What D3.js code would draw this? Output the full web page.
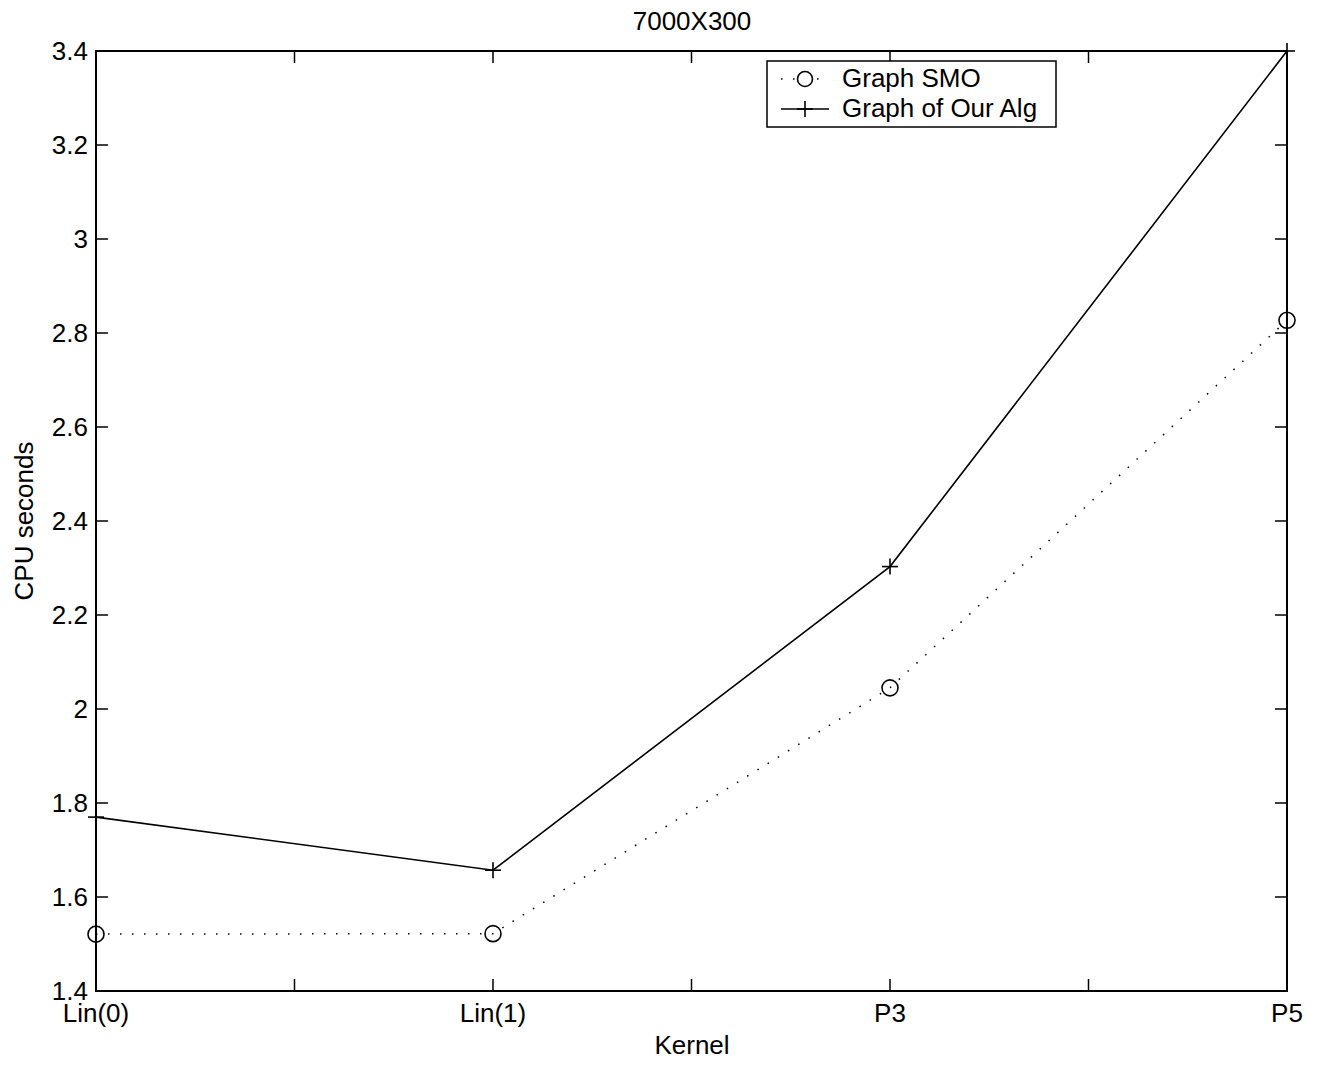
<!DOCTYPE html>
<html>
<head>
<meta charset="utf-8">
<script src="https://cdn.jsdelivr.net/npm/d3@7"></script>
<style>
  body { margin: 0; background: #fff; }
  text { font-family: "Liberation Sans", Arial, sans-serif; fill: #000; }
</style>
</head>
<body>
<svg id="chart" width="1323" height="1066"></svg>
<script>
const kernels = ["Lin(0)", "Lin(1)", "P3", "P5"];
const smoValues = [1.521, 1.522, 2.045, 2.827];
const ourValues = [1.770, 1.657, 2.303, 3.400];
const yTicks = [1.4, 1.6, 1.8, 2, 2.2, 2.4, 2.6, 2.8, 3, 3.2, 3.4];
const xTicks = [0, 0.5, 1, 1.5, 2, 2.5, 3];

const svg = d3.select("#chart");
const plotLeft = 96, plotRight = 1287, plotTop = 51, plotBottom = 991;
const fs = 26;

const x = d3.scaleLinear().domain([0, 3]).range([plotLeft, plotRight]);
const y = d3.scaleLinear().domain([1.4, 3.4]).range([plotBottom, plotTop]);
const tickLen = 12;

// ticks inside the box, on all four sides
const ticks = svg.append("g").attr("stroke", "#000").attr("stroke-width", 1.5);
yTicks.forEach(v => {
    ticks.append("line").attr("x1", plotLeft).attr("x2", plotLeft + tickLen).attr("y1", y(v)).attr("y2", y(v));
    ticks.append("line").attr("x1", plotRight).attr("x2", plotRight - tickLen).attr("y1", y(v)).attr("y2", y(v));
});
xTicks.forEach(v => {
    ticks.append("line").attr("x1", x(v)).attr("x2", x(v)).attr("y1", plotBottom).attr("y2", plotBottom - tickLen);
    ticks.append("line").attr("x1", x(v)).attr("x2", x(v)).attr("y1", plotTop).attr("y2", plotTop + tickLen);
});

svg.append("rect")
    .attr("x", plotLeft).attr("y", plotTop)
    .attr("width", plotRight - plotLeft).attr("height", plotBottom - plotTop)
    .attr("fill", "none").attr("stroke", "#000").attr("stroke-width", 2);

// tick labels
svg.selectAll(".ylab").data(yTicks).enter().append("text")
    .attr("x", plotLeft - 8).attr("y", d => y(d) + 9)
    .attr("text-anchor", "end").attr("font-size", fs)
    .text(d => d3.format("~g")(d));

svg.selectAll(".xlab").data(kernels).enter().append("text")
    .attr("x", (d, i) => x(i)).attr("y", 1022)
    .attr("text-anchor", "middle").attr("font-size", fs)
    .text(d => d);

svg.append("text").attr("x", 692).attr("y", 30).attr("text-anchor", "middle").attr("font-size", fs).text("7000X300");
svg.append("text").attr("x", 692).attr("y", 1054).attr("text-anchor", "middle").attr("font-size", fs).text("Kernel");
svg.append("text").attr("transform", "translate(33,521) rotate(-90)").attr("text-anchor", "middle").attr("font-size", fs).text("CPU seconds");

const line = d3.line().x((d, i) => x(i)).y(d => y(d));

svg.append("path").datum(smoValues).attr("d", line)
    .attr("fill", "none").attr("stroke", "#000").attr("stroke-width", 1.5)
    .attr("stroke-dasharray", "1.5 10.5");

svg.append("path").datum(ourValues).attr("d", line)
    .attr("fill", "none").attr("stroke", "#000").attr("stroke-width", 1.6);

svg.selectAll(".circ").data(smoValues).enter().append("circle")
    .attr("cx", (d, i) => x(i)).attr("cy", d => y(d)).attr("r", 8)
    .attr("fill", "none").attr("stroke", "#000").attr("stroke-width", 1.6);

function plus(g, cx, cy) {
    g.append("line").attr("x1", cx - 8).attr("x2", cx + 8).attr("y1", cy).attr("y2", cy);
    g.append("line").attr("x1", cx).attr("x2", cx).attr("y1", cy - 8).attr("y2", cy + 8);
}
const plusG = svg.append("g").attr("stroke", "#000").attr("stroke-width", 1.6);
ourValues.forEach((d, i) => plus(plusG, x(i), y(d)));

// legend
const lg = svg.append("g");
lg.append("rect").attr("x", 767).attr("y", 61).attr("width", 289).attr("height", 66)
    .attr("fill", "#fff").attr("stroke", "#000").attr("stroke-width", 1.5);
lg.append("line").attr("x1", 781).attr("x2", 829).attr("y1", 79).attr("y2", 79)
    .attr("stroke", "#000").attr("stroke-width", 1.5).attr("stroke-dasharray", "1.5 10.5");
lg.append("circle").attr("cx", 805).attr("cy", 79).attr("r", 7.5)
    .attr("fill", "#fff").attr("stroke", "#000").attr("stroke-width", 1.6);
lg.append("line").attr("x1", 781).attr("x2", 829).attr("y1", 109).attr("y2", 109)
    .attr("stroke", "#000").attr("stroke-width", 1.6);
const lp = lg.append("g").attr("stroke", "#000").attr("stroke-width", 1.6);
plus(lp, 805, 109);
lg.append("text").attr("x", 842).attr("y", 87).attr("font-size", fs).text("Graph SMO");
lg.append("text").attr("x", 842).attr("y", 117).attr("font-size", fs).text("Graph of Our Alg");
</script>
</body>
</html>
